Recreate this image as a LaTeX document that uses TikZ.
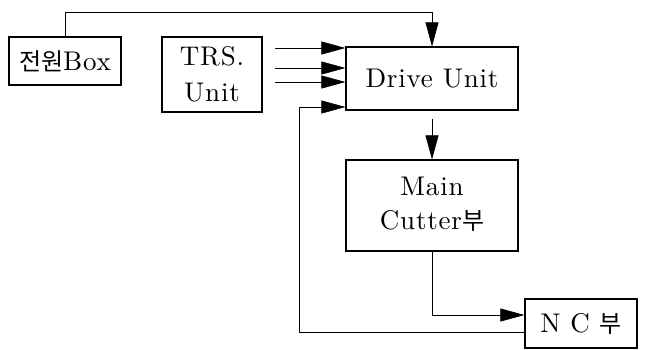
\documentclass[tikz,border=0pt]{standalone}
\usepackage{fontspec}
\setmainfont{lmroman10-regular.otf}[LetterSpace=3]
\newfontfamily\kr{Noto Sans CJK KR}
\usepackage{tikz}
\usetikzlibrary{arrows.meta, positioning, calc}

\newcommand{\hg}[1]{{\kr\fontsize{24}{36}\selectfont #1}}

\tikzset{
  blk/.style={draw=black, line width=1.2pt, inner sep=0pt, align=center,
    font=\fontsize{27}{36}\selectfont},
  conn/.style={line width=0.6pt, -{Triangle[length=24pt, width=13pt]}}
}

\begin{document}
\begin{tikzpicture}[x=1pt, y=-1pt]
      \useasboundingbox (0, 0) rectangle (645, 349);

      \node[blk, minimum width=112pt, minimum height=48pt] (power) at (65, 61) {\hg{전원}Box};
      \node[blk, minimum width=100pt, minimum height=75pt] (trs) at (212, 74.5) {TRS.\\Unit};
      \node[blk, minimum width=172pt, minimum height=63pt] (drive) at (432, 78.5) {Drive Unit};
      \node[blk, minimum width=172pt, minimum height=91pt] (cutter) at (432, 205.5) {\raisebox{-5pt}{\begin{tabular}{@{}c@{}}Main\\[-2pt]Cutter\hg{부}\end{tabular}}};
      \node[blk, minimum width=112pt, minimum height=49pt] (nc) at (581, 323.5) {N C \hg{부}};

      % power line over the top
      \coordinate (top) at (432, 12);
      \draw[conn] (power.north) |- (top) -- (drive.north);

      % three inputs from the TRS unit
      \foreach \y/\n in {48/a, 68/b, 82/c} {
        \coordinate (t\n) at (275, \y);
        \draw[conn] (t\n) -- (t\n -| drive.west);
      }

      \draw[conn] ([yshift=-8pt]drive.south) -- (cutter.north);
      \draw[conn] (cutter.south) |- ([yshift=8.5pt]nc.west);

      % feedback from NC
      \coordinate (fb) at (299, 107);
      \draw[conn] ([yshift=-8.5pt]nc.west) -| (fb) -- (fb -| drive.west);

    \end{tikzpicture}
\end{document}
